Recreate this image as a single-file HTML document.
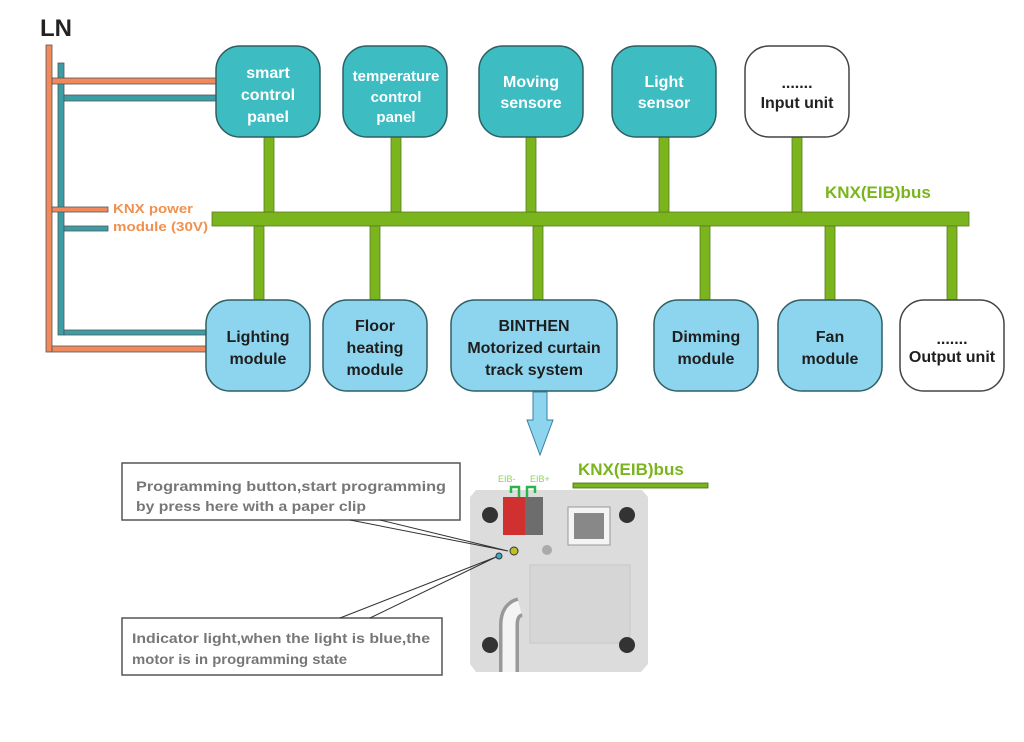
<!DOCTYPE html>
<html><head><meta charset="utf-8"><style>
html,body{margin:0;padding:0;background:#fff;}
svg{display:block;font-family:"Liberation Sans",sans-serif;font-weight:bold;}
</style></head><body>
<svg width="1024" height="742" viewBox="0 0 1024 742" xmlns="http://www.w3.org/2000/svg">
<rect width="1024" height="742" fill="#fff"/>
<text x="40" y="36" font-size="24" fill="#222">LN</text>
<g stroke="#555" stroke-width="0.8">
<rect x="46" y="45" width="6" height="307" fill="#f08a5d"/>
<rect x="58" y="63" width="6" height="272" fill="#3b9ea6"/>
<rect x="52" y="78" width="164" height="6" fill="#f08a5d"/>
<rect x="64" y="95" width="152" height="6" fill="#3b9ea6"/>
<rect x="52" y="207" width="56" height="5" fill="#f08a5d"/>
<rect x="64" y="226" width="44" height="5" fill="#3b9ea6"/>
<rect x="64" y="330" width="142" height="5" fill="#3b9ea6"/>
<rect x="52" y="346" width="154" height="6" fill="#f08a5d"/>
</g>
<text x="113" y="213" font-size="13" fill="#f0914f" textLength="80" lengthAdjust="spacingAndGlyphs">KNX power</text>
<text x="113" y="231" font-size="13" fill="#f0914f" textLength="95" lengthAdjust="spacingAndGlyphs">module (30V)</text>
<g fill="#7ab51d" stroke="#5a7a20" stroke-width="0.8">
<rect x="212" y="212" width="757" height="14"/>
<rect x="264" y="137" width="10" height="75"/>
<rect x="391" y="137" width="10" height="75"/>
<rect x="526" y="137" width="10" height="75"/>
<rect x="659" y="137" width="10" height="75"/>
<rect x="792" y="137" width="10" height="75"/>
<rect x="254" y="226" width="10" height="74"/>
<rect x="370" y="226" width="10" height="74"/>
<rect x="533" y="226" width="10" height="74"/>
<rect x="700" y="226" width="10" height="74"/>
<rect x="825" y="226" width="10" height="74"/>
<rect x="947" y="226" width="10" height="74"/>
</g>
<text x="825" y="198" font-size="17" fill="#7ab51d">KNX(EIB)bus</text>
<g stroke="#2f5f62" stroke-width="1.5">
<rect x="216" y="46" width="104" height="91" rx="24" fill="#3dbcc2"/>
<rect x="343" y="46" width="104" height="91" rx="24" fill="#3dbcc2"/>
<rect x="479" y="46" width="104" height="91" rx="24" fill="#3dbcc2"/>
<rect x="612" y="46" width="104" height="91" rx="24" fill="#3dbcc2"/>
<rect x="745" y="46" width="104" height="91" rx="24" fill="#fff" stroke="#444"/>
</g>
<g font-size="16" fill="#fff" text-anchor="middle">
<text x="268" y="78">smart</text><text x="268" y="100">control</text><text x="268" y="122">panel</text>
<text x="396" y="81" font-size="15">temperature</text><text x="396" y="102" font-size="15">control</text><text x="396" y="122" font-size="15">panel</text>
<text x="531" y="87">Moving</text><text x="531" y="108">sensore</text>
<text x="664" y="87">Light</text><text x="664" y="108">sensor</text>
</g>
<g font-size="16" fill="#222" text-anchor="middle">
<text x="797" y="88">.......</text><text x="797" y="108">Input unit</text>
</g>
<g stroke="#2f5f62" stroke-width="1.5" fill="#8dd5ef">
<rect x="206" y="300" width="104" height="91" rx="24"/>
<rect x="323" y="300" width="104" height="91" rx="24"/>
<rect x="451" y="300" width="166" height="91" rx="24"/>
<rect x="654" y="300" width="104" height="91" rx="24"/>
<rect x="778" y="300" width="104" height="91" rx="24"/>
<rect x="900" y="300" width="104" height="91" rx="24" fill="#fff" stroke="#444"/>
</g>
<g font-size="16" fill="#1e1e1e" text-anchor="middle">
<text x="258" y="342">Lighting</text><text x="258" y="364">module</text>
<text x="375" y="331">Floor</text><text x="375" y="353">heating</text><text x="375" y="375">module</text>
<text x="534" y="331">BINTHEN</text><text x="534" y="353">Motorized curtain</text><text x="534" y="375">track system</text>
<text x="706" y="342">Dimming</text><text x="706" y="364">module</text>
<text x="830" y="342">Fan</text><text x="830" y="364">module</text>
<text x="952" y="344">.......</text><text x="952" y="362">Output unit</text>
</g>
<polygon points="533,392 547,392 547,420 553,420 540,455 527,420 533,420" fill="#8dd5ef" stroke="#3a7fa0" stroke-width="1"/>
<text x="578" y="475" font-size="17" fill="#7ab51d">KNX(EIB)bus</text>
<rect x="573" y="483" width="135" height="5" fill="#7ab51d" stroke="#4a6a10" stroke-width="0.8"/>
<polygon points="476,490 642,490 648,497 648,664 641,672 476,672 470,664 470,497" fill="#dcdcdc"/>
<text x="498" y="482" font-size="9" fill="#8fcf60" font-weight="normal">EIB-</text>
<text x="530" y="482" font-size="9" fill="#8fcf60" font-weight="normal">EIB+</text>
<path d="M511,493 V487 H519 V498 M527,498 V487 H535 V493" stroke="#2db34a" stroke-width="2.5" fill="none"/>
<rect x="503" y="497" width="22" height="38" fill="#d0302f"/>
<rect x="525" y="497" width="18" height="38" fill="#6d6d6d"/>
<rect x="568" y="507" width="42" height="38" fill="#f4f4f4" stroke="#999"/>
<rect x="574" y="513" width="30" height="26" fill="#888"/>
<rect x="530" y="565" width="100" height="78" fill="#d6d6d6" stroke="#c8c8c8"/>
<circle cx="514" cy="551" r="4" fill="#bfbf2a" stroke="#333"/>
<circle cx="499" cy="556" r="3" fill="#3aa9c9" stroke="#333"/>
<circle cx="547" cy="550" r="5" fill="#aaa"/>
<g fill="#333"><circle cx="490" cy="515" r="8"/><circle cx="627" cy="515" r="8"/><circle cx="490" cy="645" r="8"/><circle cx="627" cy="645" r="8"/></g>
<path d="M509,672 V625 Q509,610 520,607" stroke="#999" stroke-width="20" fill="none"/>
<path d="M509,672 V625 Q509,610 520,607" stroke="#f4f4f4" stroke-width="13" fill="none"/>
<rect x="122" y="463" width="338" height="57" fill="#fff" stroke="#555" stroke-width="1.5"/>
<text x="136" y="491" font-size="14" fill="#777" textLength="310" lengthAdjust="spacingAndGlyphs">Programming  button,start  programming</text>
<text x="136" y="511" font-size="14" fill="#777" textLength="230" lengthAdjust="spacingAndGlyphs">by press here with a paper clip</text>
<path d="M350,520 L508,551 M380,520 L508,551" stroke="#333" stroke-width="1"/>
<rect x="122" y="618" width="320" height="57" fill="#fff" stroke="#555" stroke-width="1.5"/>
<text x="132" y="643" font-size="14" fill="#777" textLength="298" lengthAdjust="spacingAndGlyphs">Indicator light,when the light is blue,the</text>
<text x="132" y="664" font-size="14" fill="#777" textLength="215" lengthAdjust="spacingAndGlyphs">motor is in programming state</text>
<path d="M340,618 L496,557 M370,618 L496,557" stroke="#333" stroke-width="1"/>
</svg>
</body></html>
